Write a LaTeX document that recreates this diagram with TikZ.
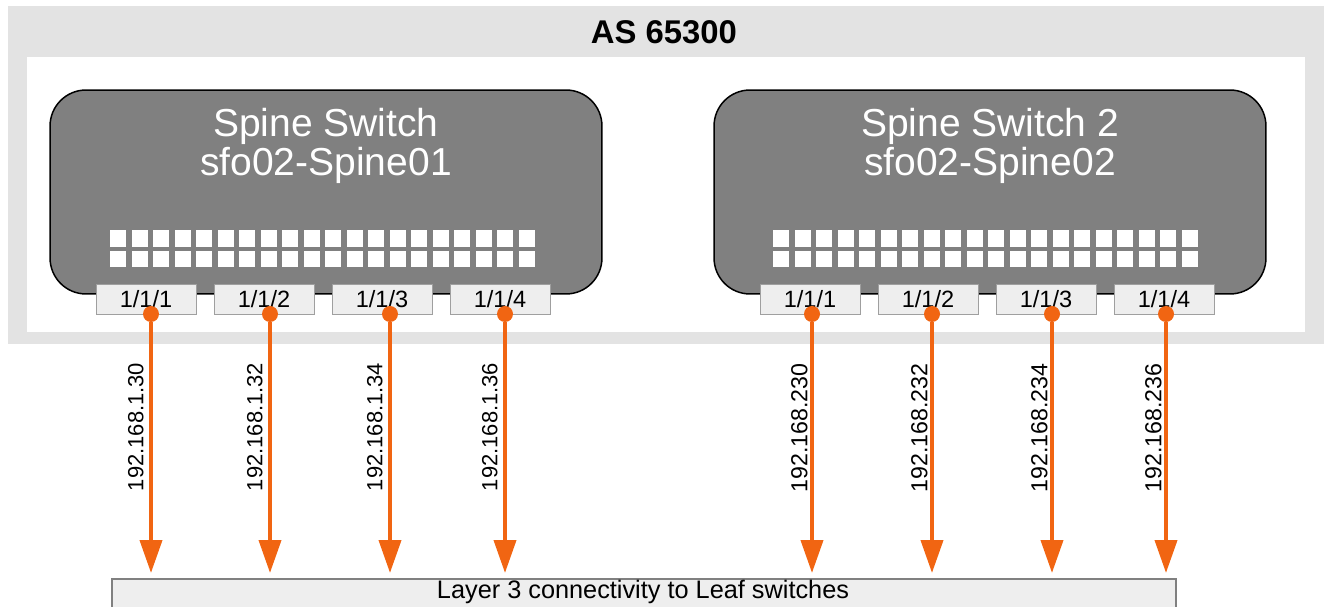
\documentclass[tikz,border=0pt]{standalone}
\usepackage{fontspec}
\setmainfont{Liberation Sans}
\usepackage{tikz}
\usetikzlibrary{arrows.meta,shadows}

\definecolor{bandgray}{RGB}{227,227,227}
\definecolor{boxgray}{RGB}{128,128,128}
\definecolor{portfill}{RGB}{238,238,238}
\definecolor{linkorange}{RGB}{241,101,18}

\tikzset{
  spine/.style={draw=black, line width=0.85pt, fill=boxgray, rounded corners=0.72cm,
                minimum width=11.04cm, minimum height=4.08cm},
  swtext/.style={anchor=base, text=white, font=\fontsize{22.2}{22}\selectfont},
  port/.style={draw=gray!75, fill=portfill, minimum width=2cm, minimum height=0.6cm,
               inner sep=0pt, font=\fontsize{13.4}{14}\selectfont,
               drop shadow={shadow xshift=0.7pt, shadow yshift=-0.7pt, fill=gray!80, opacity=1}},
  portdot/.style={circle, fill=linkorange, minimum size=0.32cm, inner sep=0pt},
  link/.style={draw=linkorange, line width=0.08cm, shorten >=0.1cm,
               -{Triangle[length=0.66cm, width=0.44cm]}},
  iplab/.style={rotate=90, anchor=south, inner sep=0pt, font=\fontsize{12.5}{13}\selectfont},
  leafbox/.style={draw=boxgray, line width=1.1pt, fill=portfill, anchor=north,
                  minimum width=21.28cm, minimum height=0.84cm}
}

\begin{document}
\begin{tikzpicture}[x=0.02cm, y=-0.02cm]
    \useasboundingbox (0,0) rectangle (1330,607);

    % AS frame
    \fill[bandgray] (8,6) rectangle (1324,344);
    \fill[white] (27,57) rectangle (1305,332);
    \node[anchor=base, font=\bfseries\fontsize{18.7}{20}\selectfont] (as) at (664,44) {AS 65300};

    % Spine switches
    \node[spine] (sw1) at (326,192) {};
    \node[spine] (sw2) at (990,192) {};
    \node[swtext] (sw1a) at (326,137) {Spine Switch};
    \node[swtext] (sw1b) at (326,176) {sfo02-Spine01};
    \node[swtext] (sw2a) at (990,137) {Spine Switch 2};
    \node[swtext] (sw2b) at (990,176) {sfo02-Spine02};

    % Port grids
    \foreach \i in {0,...,19} {
        \fill[white] (110+\i*21.5,230) rectangle ++(16,17);
        \fill[white] (110+\i*21.5,251) rectangle ++(16,16);
        \fill[white] (773+\i*21.5,230) rectangle ++(16,17);
        \fill[white] (773+\i*21.5,251) rectangle ++(16,16);
    }

    % Leaf layer
    \node[leafbox] (leaf) at (644,578) {};
    \node[anchor=base, font=\fontsize{14.4}{15}\selectfont] (leaftxt) at (643,599)
        {Layer 3 connectivity to Leaf switches};

    % Uplinks of spine 1
    \foreach \n/\lx/\dx/\ip in {1/146/151/30, 2/264/270/32, 3/382/390/34, 4/500/505/36} {
        \node[port] (a\n) at (\lx,299) {1/1/\n};
        \node[portdot] (da\n) at (\dx,314) {};
        \draw[link] (da\n) -- (da\n |- leaf.north);
        \node[iplab] (ipa\n) at (\dx-7,427) {192.168.1.\ip};
    }

    % Uplinks of spine 2
    \foreach \n/\lx/\dx/\ip in {1/810/812/230, 2/928/932/232, 3/1046/1052/234, 4/1164/1166/236} {
        \node[port] (b\n) at (\lx,299) {1/1/\n};
        \node[portdot] (db\n) at (\dx,314) {};
        \draw[link] (db\n) -- (db\n |- leaf.north);
        \node[iplab, font=\fontsize{13.2}{14}\selectfont] (ipb\n) at (\dx-4,428) {192.168.\ip};
    }
\end{tikzpicture}
\end{document}
